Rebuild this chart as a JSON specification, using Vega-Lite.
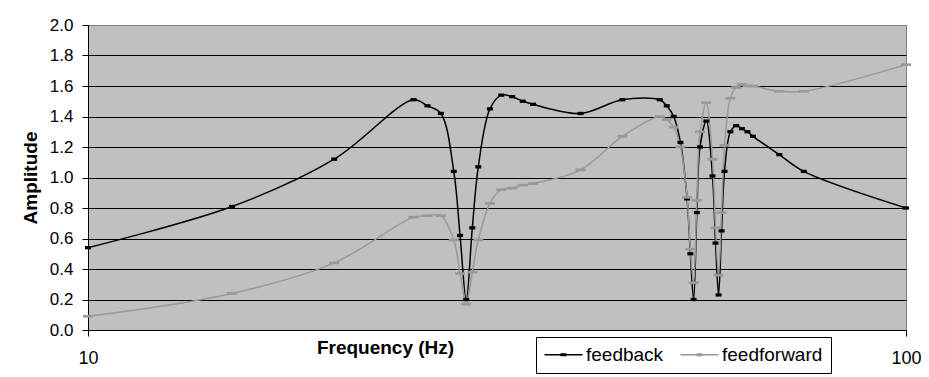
{
  "$schema": "https://vega.github.io/schema/vega-lite/v6.json",
  "autosize": "none",
  "width": 818,
  "height": 305,
  "padding": {"left": 88, "top": 25, "right": 23, "bottom": 47},
  "background": "white",
  "config": {
    "font": "Liberation Sans",
    "view": {"fill": "#C0C0C0", "stroke": "#808080", "strokeWidth": 1}
  },
  "data": {
    "values": [
      {"f": 10, "amp": 0.54, "series": "feedback"},
      {"f": 15, "amp": 0.81, "series": "feedback"},
      {"f": 20, "amp": 1.12, "series": "feedback"},
      {"f": 25, "amp": 1.51, "series": "feedback"},
      {"f": 26, "amp": 1.47, "series": "feedback"},
      {"f": 27, "amp": 1.42, "series": "feedback"},
      {"f": 28, "amp": 1.04, "series": "feedback"},
      {"f": 28.5, "amp": 0.62, "series": "feedback"},
      {"f": 29, "amp": 0.20, "series": "feedback"},
      {"f": 29.5, "amp": 0.67, "series": "feedback"},
      {"f": 30, "amp": 1.07, "series": "feedback"},
      {"f": 31, "amp": 1.45, "series": "feedback"},
      {"f": 32, "amp": 1.54, "series": "feedback"},
      {"f": 33, "amp": 1.53, "series": "feedback"},
      {"f": 34, "amp": 1.50, "series": "feedback"},
      {"f": 35, "amp": 1.48, "series": "feedback"},
      {"f": 40, "amp": 1.42, "series": "feedback"},
      {"f": 45, "amp": 1.51, "series": "feedback"},
      {"f": 50, "amp": 1.51, "series": "feedback"},
      {"f": 51, "amp": 1.47, "series": "feedback"},
      {"f": 52, "amp": 1.40, "series": "feedback"},
      {"f": 53, "amp": 1.23, "series": "feedback"},
      {"f": 54, "amp": 0.86, "series": "feedback"},
      {"f": 54.5, "amp": 0.50, "series": "feedback"},
      {"f": 55, "amp": 0.20, "series": "feedback"},
      {"f": 55.5, "amp": 0.77, "series": "feedback"},
      {"f": 56, "amp": 1.20, "series": "feedback"},
      {"f": 57, "amp": 1.37, "series": "feedback"},
      {"f": 58, "amp": 1.01, "series": "feedback"},
      {"f": 58.5, "amp": 0.57, "series": "feedback"},
      {"f": 59, "amp": 0.23, "series": "feedback"},
      {"f": 59.5, "amp": 0.65, "series": "feedback"},
      {"f": 60, "amp": 1.04, "series": "feedback"},
      {"f": 61, "amp": 1.30, "series": "feedback"},
      {"f": 62, "amp": 1.34, "series": "feedback"},
      {"f": 63, "amp": 1.32, "series": "feedback"},
      {"f": 64, "amp": 1.30, "series": "feedback"},
      {"f": 65, "amp": 1.27, "series": "feedback"},
      {"f": 70, "amp": 1.15, "series": "feedback"},
      {"f": 75, "amp": 1.04, "series": "feedback"},
      {"f": 100, "amp": 0.80, "series": "feedback"},
      {"f": 10, "amp": 0.09, "series": "feedforward"},
      {"f": 15, "amp": 0.24, "series": "feedforward"},
      {"f": 20, "amp": 0.44, "series": "feedforward"},
      {"f": 25, "amp": 0.74, "series": "feedforward"},
      {"f": 26, "amp": 0.75, "series": "feedforward"},
      {"f": 27, "amp": 0.75, "series": "feedforward"},
      {"f": 28, "amp": 0.59, "series": "feedforward"},
      {"f": 28.5, "amp": 0.37, "series": "feedforward"},
      {"f": 29, "amp": 0.17, "series": "feedforward"},
      {"f": 29.5, "amp": 0.38, "series": "feedforward"},
      {"f": 30, "amp": 0.59, "series": "feedforward"},
      {"f": 31, "amp": 0.83, "series": "feedforward"},
      {"f": 32, "amp": 0.92, "series": "feedforward"},
      {"f": 33, "amp": 0.93, "series": "feedforward"},
      {"f": 34, "amp": 0.95, "series": "feedforward"},
      {"f": 35, "amp": 0.96, "series": "feedforward"},
      {"f": 40, "amp": 1.05, "series": "feedforward"},
      {"f": 45, "amp": 1.27, "series": "feedforward"},
      {"f": 50, "amp": 1.40, "series": "feedforward"},
      {"f": 51, "amp": 1.38, "series": "feedforward"},
      {"f": 52, "amp": 1.33, "series": "feedforward"},
      {"f": 53, "amp": 1.20, "series": "feedforward"},
      {"f": 54, "amp": 0.87, "series": "feedforward"},
      {"f": 54.5, "amp": 0.53, "series": "feedforward"},
      {"f": 55, "amp": 0.31, "series": "feedforward"},
      {"f": 55.5, "amp": 0.85, "series": "feedforward"},
      {"f": 56, "amp": 1.30, "series": "feedforward"},
      {"f": 57, "amp": 1.49, "series": "feedforward"},
      {"f": 58, "amp": 1.12, "series": "feedforward"},
      {"f": 58.5, "amp": 0.67, "series": "feedforward"},
      {"f": 59, "amp": 0.36, "series": "feedforward"},
      {"f": 59.5, "amp": 0.77, "series": "feedforward"},
      {"f": 60, "amp": 1.21, "series": "feedforward"},
      {"f": 61, "amp": 1.52, "series": "feedforward"},
      {"f": 62, "amp": 1.59, "series": "feedforward"},
      {"f": 63, "amp": 1.61, "series": "feedforward"},
      {"f": 64, "amp": 1.60, "series": "feedforward"},
      {"f": 65, "amp": 1.60, "series": "feedforward"},
      {"f": 70, "amp": 1.565, "series": "feedforward"},
      {"f": 75, "amp": 1.565, "series": "feedforward"},
      {"f": 100, "amp": 1.74, "series": "feedforward"}
    ]
  },
  "encoding": {
    "x": {
      "field": "f",
      "type": "quantitative",
      "scale": {"type": "log", "domain": [10, 100], "nice": false},
      "axis": {
        "values": [10, 100],
        "format": "d",
        "grid": false,
        "domainColor": "black",
        "tickColor": "black",
        "tickSize": 6,
        "labelFontSize": 18,
        "labelColor": "black",
        "labelPadding": 13,
        "labelFlush": false,
        "title": "Frequency (Hz)",
        "titleFontSize": 19,
        "titleFontWeight": "bold",
        "titleColor": "black",
        "titleX": 297,
        "titleY": 23,
        "titleBaseline": "alphabetic",
        "titleAlign": "center"
      }
    },
    "y": {
      "field": "amp",
      "type": "quantitative",
      "scale": {"domain": [0, 2], "nice": false},
      "axis": {
        "values": [0, 0.2, 0.4, 0.6, 0.8, 1.0, 1.2, 1.4, 1.6, 1.8, 2.0],
        "format": ".1f",
        "grid": true,
        "gridColor": {"condition": {"test": "datum.value >= 2", "value": "#808080"}, "value": "black"},
        "gridOpacity": 1,
        "gridWidth": 1,
        "domainColor": "black",
        "tickColor": "black",
        "tickSize": 6,
        "labelFontSize": 17,
        "labelColor": "black",
        "labelPadding": 9,
        "title": "Amplitude",
        "titleFontSize": 19,
        "titleFontWeight": "bold",
        "titleColor": "black",
        "titlePadding": 9
      }
    }
  },
  "layer": [
    {
      "mark": {"type": "line", "interpolate": "catmull-rom", "strokeWidth": 1.5, "clip": false},
      "encoding": {
        "color": {
          "field": "series",
          "type": "nominal",
          "scale": {"domain": ["feedback", "feedforward"], "range": ["#000000", "#999999"]},
          "legend": {
            "orient": "none",
            "legendX": 448,
            "legendY": 312,
            "direction": "horizontal",
            "title": null,
            "strokeColor": "black",
            "fillColor": "white",
            "padding": 8,
            "labelFontSize": 19,
            "labelColor": "black",
            "labelOffset": 23,
            "columnPadding": 16,
            "symbolSize": 324,
            "symbolType": "M-1,-0.083H3.222V0.083H-1Z M0.778,-0.17H1.444V0.17H0.778Z",
            "symbolStrokeWidth": 0,
            "encode": {"symbols": {
              "update": {
                "fill": {"scale": "color", "field": "value"},
                "strokeWidth": {"value": 0},
                "fillOpacity": {"value": 1},
                "opacity": {"value": 1}
              }
            }}
          }
        }
      }
    },
    {
      "transform": [{"filter": "datum.series === 'feedback'"}],
      "mark": {"type": "point", "filled": true, "opacity": 1, "size": 100, "color": "#000000", "shape": "M-0.6,-0.33H0.6V0.33H-0.6Z"}
    },
    {
      "transform": [{"filter": "datum.series === 'feedforward'"}],
      "mark": {"type": "point", "filled": true, "opacity": 1, "size": 100, "color": "#999999", "shape": "M-1,-0.27H1V0.27H-1Z"}
    }
  ]
}
